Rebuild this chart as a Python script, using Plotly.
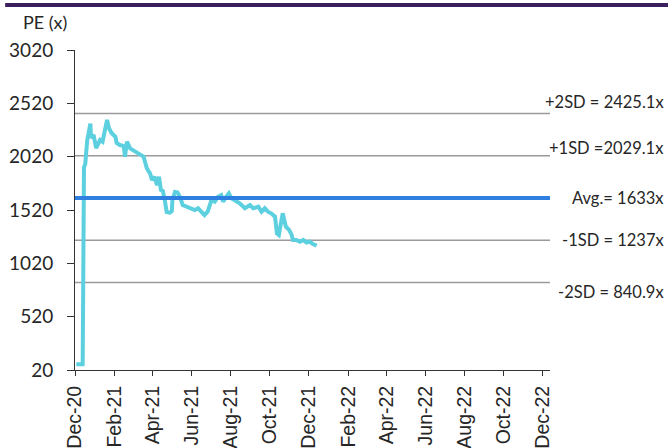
import plotly.graph_objects as go

dates = [
    "2020-12-03", "2020-12-13", "2020-12-15", "2020-12-17", "2020-12-20", "2020-12-23",
    "2020-12-25", "2020-12-26", "2020-12-30", "2021-01-03", "2021-01-06", "2021-01-09",
    "2021-01-13", "2021-01-17", "2021-01-20", "2021-01-23", "2021-01-27", "2021-02-02",
    "2021-02-04", "2021-02-09", "2021-02-15", "2021-02-17", "2021-02-20", "2021-02-25",
    "2021-03-05", "2021-03-15", "2021-03-18", "2021-03-23", "2021-03-28", "2021-03-31",
    "2021-04-04", "2021-04-08", "2021-04-11", "2021-04-14", "2021-04-17", "2021-04-20",
    "2021-04-23", "2021-04-28", "2021-05-01", "2021-05-02", "2021-05-06", "2021-05-10",
    "2021-05-14", "2021-05-18", "2021-05-24", "2021-06-01", "2021-06-06", "2021-06-11",
    "2021-06-16", "2021-06-21", "2021-06-26", "2021-07-02", "2021-07-07", "2021-07-12",
    "2021-07-17", "2021-07-20", "2021-07-25", "2021-07-29", "2021-08-02", "2021-08-07",
    "2021-08-15", "2021-08-23", "2021-08-31", "2021-09-05", "2021-09-13", "2021-09-18",
    "2021-09-23", "2021-09-28", "2021-10-03", "2021-10-09", "2021-10-12", "2021-10-15",
    "2021-10-19", "2021-10-21", "2021-10-26", "2021-10-31", "2021-11-04", "2021-11-06",
    "2021-11-11", "2021-11-17", "2021-11-22", "2021-11-27", "2021-12-02", "2021-12-07",
    "2021-12-13",
]
pe = [
    73, 73, 1920, 1950, 2170, 2300,
    2330, 2195, 2225, 2100, 2150, 2176,
    2160, 2300, 2364, 2287, 2242, 2207,
    2148, 2129, 2120, 2020, 2160, 2098,
    2067, 2036, 2020, 1911, 1864, 1801,
    1832, 1754, 1832, 1708, 1700, 1614,
    1500, 1495, 1510, 1614, 1690, 1685,
    1640, 1567, 1551, 1536, 1520, 1536,
    1504, 1473, 1504, 1614, 1598, 1645,
    1660, 1598, 1645, 1676, 1630, 1614,
    1583, 1536, 1567, 1536, 1551, 1504,
    1536, 1504, 1489, 1458, 1301, 1286,
    1395, 1489, 1364, 1333, 1286, 1239,
    1239, 1223, 1239, 1216, 1225, 1201,
    1186,
]

band_values = [2425.1, 2029.1, 1633, 1237, 840.9]
band_labels = ["+2SD = 2425.1x", "+1SD =2029.1x", "Avg.= 1633x", "-1SD = 1237x", "-2SD = 840.9x"]
label_shift = [11, 8, 0, 0, -10]

y_ticks = [20, 520, 1020, 1520, 2020, 2520, 3020]

FONT = "Lato"
XFONT = "Liberation Sans"
TXT = "#262626"

fig = go.Figure()
fig.add_trace(go.Scatter(
    x=dates, y=pe, mode="lines",
    line=dict(color="#5dd0e0", width=4),
    showlegend=False, hoverinfo="skip",
))

shapes = []
annotations = []
for v, lab, sh in zip(band_values, band_labels, label_shift):
    is_avg = lab.startswith("Avg")
    shapes.append(dict(
        type="line", xref="paper", yref="y", x0=0, x1=1, y0=v, y1=v,
        line=dict(color="#2f7fe0" if is_avg else "#9a9a9a", width=4 if is_avg else 1.5),
        layer="below" if not is_avg else "above",
    ))
    annotations.append(dict(
        xref="paper", yref="y", x=1.244, y=v, text=lab, showarrow=False,
        xanchor="right", yanchor="middle", yshift=sh,
        font=dict(family=FONT, size=16.5, color=TXT),
    ))

# top purple rule
shapes.append(dict(
    type="rect", xref="paper", yref="paper", x0=-0.147, x1=1.26, y0=1.134, y1=1.147,
    fillcolor="#3b1f5e", line=dict(width=0), layer="above",
))

annotations.append(dict(
    xref="paper", yref="paper", x=-0.063, y=1.088, text="PE (x)", showarrow=False,
    xanchor="center", yanchor="middle", font=dict(family=FONT, size=18, color=TXT),
))

fig.update_layout(
    width=668, height=448,
    margin=dict(l=75, r=118, t=50, b=78, autoexpand=False),
    paper_bgcolor="white", plot_bgcolor="white",
    shapes=shapes, annotations=annotations,
    font=dict(family=FONT, size=16, color=TXT),
)
fig.update_xaxes(
    type="date", range=["2020-12-01", "2022-12-12"], automargin=False,
    tick0="2020-12-01", dtick="M2", tickformat="%b-%y", tickangle=-90,
    showgrid=False, zeroline=False, showline=True, linecolor="#333", linewidth=1,
    ticks="outside", ticklen=5, tickcolor="#333", ticklabelstandoff=2,
    tickfont=dict(family=XFONT, size=19.5, color=TXT),
)
fig.update_yaxes(
    range=[20, 3020], tickmode="array", tickvals=y_ticks, automargin=False,
    ticktext=[str(t) for t in y_ticks],
    showgrid=False, zeroline=False, showline=True, linecolor="#333", linewidth=1,
    ticks="outside", ticklen=7, tickcolor="#333", ticklabelstandoff=10,
    tickfont=dict(family=FONT, size=19, color=TXT),
)

fig.write_html("out.html")
